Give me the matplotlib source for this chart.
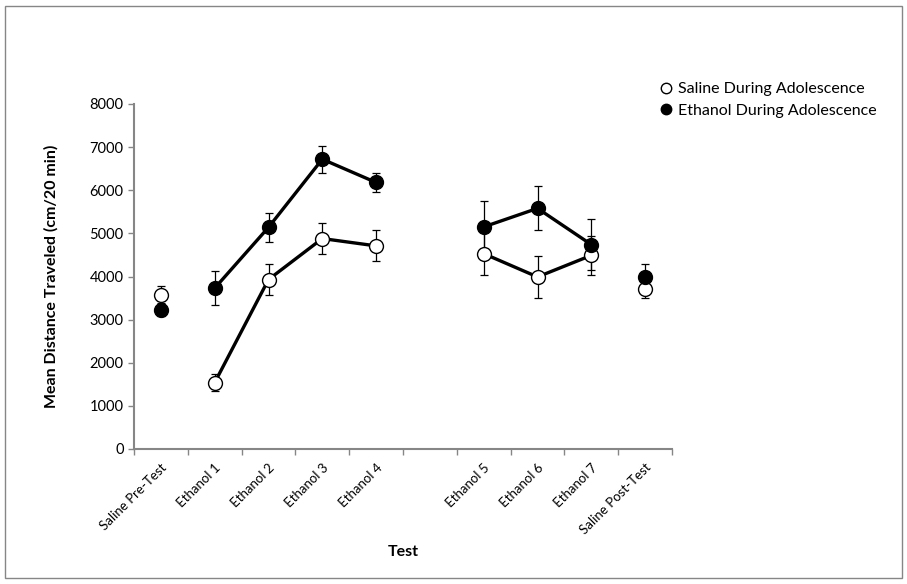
import numpy as np
import matplotlib.pyplot as plt
from matplotlib.patches import Rectangle

plt.rcParams['font.family'] = ['Lato', 'DejaVu Sans']

# categories (blank slot = gap on the x axis)
categories = ["Saline Pre-Test", "Ethanol 1", "Ethanol 2", "Ethanol 3", "Ethanol 4", "",
              "Ethanol 5", "Ethanol 6", "Ethanol 7", "Saline Post-Test"]

saline_mean = [3580, 1540, 3930, 4880, 4710, np.nan, 4530, 3990, 4490, 3710]
saline_err = [200, 190, 350, 360, 360, np.nan, 500, 480, 460, 200]
ethanol_mean = [3220, 3730, 5140, 6720, 6180, np.nan, 5150, 5580, 4740, 3980]
ethanol_err = [140, 390, 330, 310, 220, np.nan, 590, 510, 600, 320]

# which categories get joined by a line
segments = [["Saline Pre-Test"],
            ["Ethanol 1", "Ethanol 2", "Ethanol 3", "Ethanol 4"],
            ["Ethanol 5", "Ethanol 6", "Ethanol 7"],
            ["Saline Post-Test"]]

fig = plt.figure(figsize=(9.07, 5.84), dpi=100)
ax = fig.add_axes([134 / 907, 1 - 449 / 584, (672 - 134) / 907, (449 - 104) / 584])

x = np.arange(len(categories))
gray = "#868686"

def draw_series(means, errs, face, label):
    means = np.array(means, dtype=float)
    errs = np.array(errs, dtype=float)
    for seg in segments:
        idx = [categories.index(c) for c in seg]
        ax.plot(x[idx], means[idx], color="black", lw=2.4, zorder=2)
    ax.errorbar(x, means, yerr=errs, fmt="none", ecolor="black",
                elinewidth=0.9, capsize=3.2, capthick=0.9, zorder=3)
    ax.plot(x, means, "o", ms=10, mfc=face, mec="black", mew=1.0,
            ls="none", zorder=4, label=label)

draw_series(saline_mean, saline_err, "white", "Saline During Adolescence")
draw_series(ethanol_mean, ethanol_err, "black", "Ethanol During Adolescence")

ax.set_xlim(-0.5, len(categories) - 0.5)
ax.set_ylim(0, 8000)
ax.set_yticks(np.arange(0, 8001, 1000))
ax.set_xticks(x)
ax.set_xticklabels(categories, rotation=45, ha="right", rotation_mode="anchor",
                   fontsize=9.5)
ax.tick_params(axis="x", which="major", length=0, pad=9)
ax.set_xticks(np.arange(-0.5, len(categories)), minor=True)
ax.tick_params(axis="x", which="minor", length=4, color=gray, width=1)
ax.tick_params(axis="y", length=4, color=gray, width=1, labelsize=10.5)

for s in ["top", "right"]:
    ax.spines[s].set_visible(False)
for s in ["left", "bottom"]:
    ax.spines[s].set_color(gray)
    ax.spines[s].set_linewidth(1.5)

ax.set_ylabel("Mean Distance Traveled (cm/20 min)", fontsize=11.5, fontweight="bold", labelpad=22)
ax.set_xlabel("Test", fontsize=11.5, fontweight="bold", labelpad=6)

leg = ax.legend(loc="upper left", bbox_to_anchor=(652 / 907, 1 - 74 / 584),
                bbox_transform=fig.transFigure, frameon=False, fontsize=11.5,
                handlelength=0.7, handletextpad=0.4, labelspacing=0.45, borderpad=0,
                markerscale=0.75)

fig.patches.append(Rectangle((5 / 907, 6 / 584), 897 / 907, 572 / 584,
                             transform=fig.transFigure, fill=False,
                             edgecolor=gray, lw=1))

fig.savefig("out.png", dpi=100)
